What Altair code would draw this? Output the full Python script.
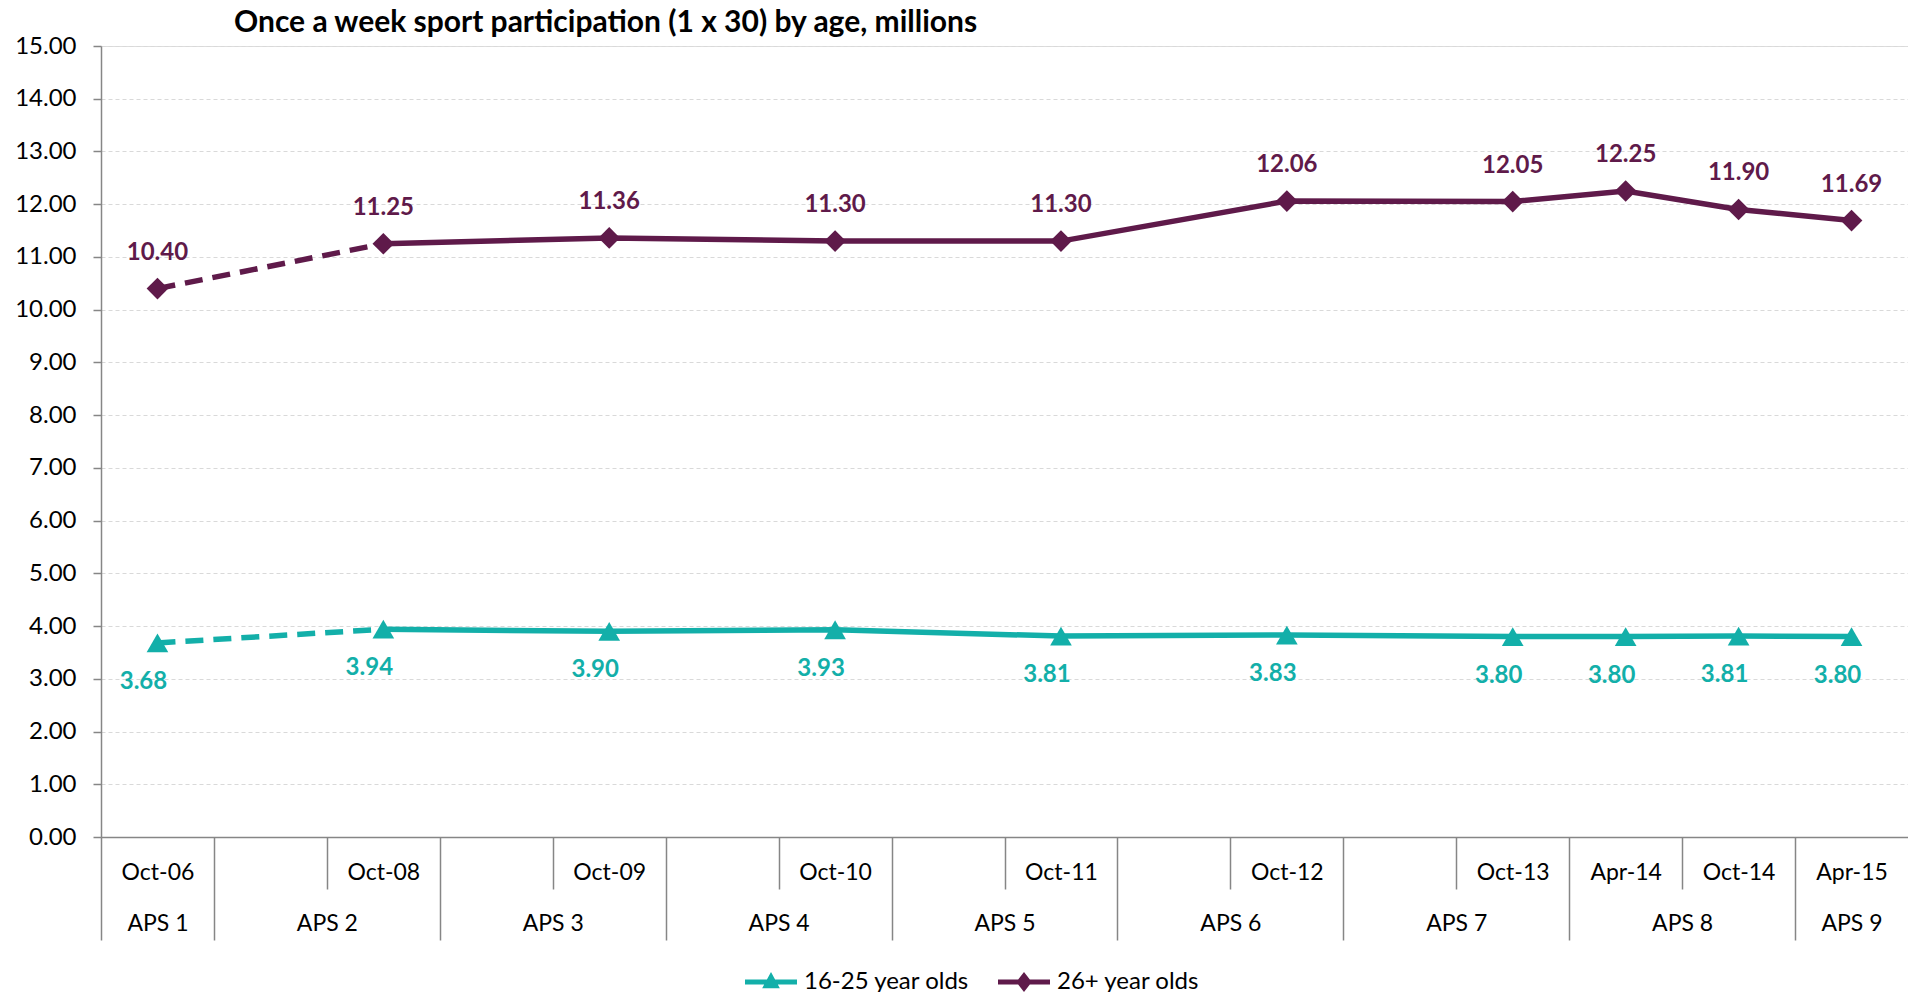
import altair as alt
import pandas as pd

# Survey waves and the reporting periods inside each wave.
# A blank period is an empty slot on the category axis.
waves = ["APS 1", "APS 2", "APS 3", "APS 4", "APS 5", "APS 6", "APS 7", "APS 8", "APS 9"]
wave_periods = [
    ["Oct-06"],
    ["", "Oct-08"],
    ["", "Oct-09"],
    ["", "Oct-10"],
    ["", "Oct-11"],
    ["", "Oct-12"],
    ["", "Oct-13"],
    ["Apr-14", "Oct-14"],
    ["Apr-15"],
]

periods = ["Oct-06", "Oct-08", "Oct-09", "Oct-10", "Oct-11",
           "Oct-12", "Oct-13", "Apr-14", "Oct-14", "Apr-15"]
age_16_25 = [3.68, 3.94, 3.90, 3.93, 3.81, 3.83, 3.80, 3.80, 3.81, 3.80]
age_26_plus = [10.40, 11.25, 11.36, 11.30, 11.30, 12.06, 12.05, 12.25, 11.90, 11.69]

series_names = ["16-25 year olds", "26+ year olds"]
series_colors = ["#13AFA9", "#5F1A4A"]
y_ticks = list(range(0, 16))

FONT = "Lato"
GREY = "#868686"

# ---- category slots -------------------------------------------------------
slot_labels = [p for grp in wave_periods for p in grp]
n_slots = len(slot_labels)

wave_edges, wave_inner, wave_centers = [], [], []
start = 0
for grp in wave_periods:
    wave_edges.append(start)
    wave_centers.append(start + len(grp) / 2)
    for k in range(1, len(grp)):
        wave_inner.append(start + k)
    start += len(grp)

period_centers = [i + 0.5 for i, p in enumerate(slot_labels) if p]

# label lookup tables indexed by 2 * axis value (half-slot resolution)
period_lookup = [""] * (2 * n_slots + 1)
for c in period_centers:
    period_lookup[int(c * 2)] = slot_labels[int(c)]
wave_lookup = [""] * (2 * n_slots + 1)
for w, c in zip(waves, wave_centers):
    wave_lookup[int(c * 2)] = w


def lookup_expr(table):
    return "[" + ",".join("'%s'" % s for s in table) + "][round(datum.value * 2)]"


# ---- long table ------------------------------------------------------------
# small hand nudges (px) for a few data labels that sit off the usual spot
label_nudge = {
    ("16-25 year olds", "Apr-15"): (40, -4),
    ("16-25 year olds", "Oct-12"): (-4, 6),
    ("26+ year olds", "Oct-13"): (-6, 13),
}

rows = []
for name, vals in zip(series_names, [age_16_25, age_26_plus]):
    for p, v in zip(periods, vals):
        nx, ny = label_nudge.get((name, p), (0, 0))
        rows.append({"series": name, "period": p,
                     "x": slot_labels.index(p) + 0.5, "value": v,
                     "nx": nx, "ny": ny})
df = pd.DataFrame(rows)
first_solid = slot_labels.index(periods[1]) + 0.5

x_scale = alt.Scale(domain=[0, n_slots], nice=False, zero=False)
y_scale = alt.Scale(domain=[0, 15], nice=False, zero=True)
c_scale = alt.Scale(domain=series_names, range=series_colors)

axis_wave_edges = alt.Axis(values=wave_edges, orient="bottom", labels=False, ticks=True,
                           tickSize=103, tickColor=GREY, tickWidth=1.5, domain=True,
                           domainColor=GREY, domainWidth=1.5, grid=False, title=None)
axis_inner_edges = alt.Axis(values=wave_inner, orient="bottom", labels=False, ticks=True,
                            tickSize=52, tickColor=GREY, tickWidth=1.5, domain=False,
                            grid=False, title=None)
axis_periods = alt.Axis(values=period_centers, orient="bottom",
                        labelExpr=lookup_expr(period_lookup),
                        ticks=False, tickSize=0, domain=False, grid=False, labelPadding=35,
                        labelBaseline="middle", labelFlush=False, labelOverlap=False,
                        labelFontSize=23, labelColor="black", labelFont=FONT, title=None)
axis_waves = alt.Axis(values=wave_centers, orient="bottom",
                      labelExpr=lookup_expr(wave_lookup),
                      ticks=False, tickSize=0, domain=False, grid=False, labelPadding=86,
                      labelBaseline="middle", labelFlush=False, labelOverlap=False,
                      labelFontSize=23, labelColor="black", labelFont=FONT, title=None)

y_axis = alt.Axis(values=y_ticks, format=".2f", grid=True, gridDash=[4, 3],
                  gridColor="#D9D9D9", gridWidth=1.2, domainColor=GREY, domainWidth=1.5,
                  tickColor=GREY, tickSize=8, tickWidth=1.5, labelPadding=17,
                  labelFontSize=24, labelColor="black", labelFont=FONT, title=None)

base = alt.Chart(df)
color_enc = alt.Color("series:N", scale=c_scale, legend=None)

solid = base.transform_filter(alt.datum.x >= first_solid).mark_line(strokeWidth=5.5).encode(
    x=alt.X("x:Q", scale=x_scale, axis=axis_wave_edges),
    y=alt.Y("value:Q", scale=y_scale, axis=y_axis),
    color=color_enc,
)

dashed = base.transform_filter(alt.datum.x <= first_solid).mark_line(
    strokeWidth=5.5, strokeDash=[18, 10]).encode(
    x=alt.X("x:Q", scale=x_scale, axis=axis_inner_edges),
    y=alt.Y("value:Q", scale=y_scale),
    color=color_enc,
)

points = base.mark_point(filled=True, size=470, opacity=1).encode(
    x=alt.X("x:Q", scale=x_scale, axis=axis_periods),
    y=alt.Y("value:Q", scale=y_scale),
    color=color_enc,
    shape=alt.Shape("series:N", scale=alt.Scale(domain=series_names,
                                                range=["triangle-up", "diamond"]),
                    legend=None),
)

label_style = dict(font=FONT, fontSize=24, fontWeight="bold", baseline="middle", align="center")

labels_old = base.transform_filter(alt.datum.series == series_names[1]).mark_text(
    dy=-36, **label_style).encode(
    x=alt.X("x:Q", scale=x_scale, axis=axis_waves),
    y=alt.Y("value:Q", scale=y_scale),
    xOffset=alt.XOffset("nx:Q", scale=None),
    yOffset=alt.YOffset("ny:Q", scale=None),
    text=alt.Text("value:Q", format=".2f"),
    color=color_enc,
)

labels_young = base.transform_filter(alt.datum.series == series_names[0]).mark_text(
    dx=-14, dy=39, **label_style).encode(
    x=alt.X("x:Q", scale=x_scale, axis=None),
    y=alt.Y("value:Q", scale=y_scale),
    xOffset=alt.XOffset("nx:Q", scale=None),
    yOffset=alt.YOffset("ny:Q", scale=None),
    text=alt.Text("value:Q", format=".2f"),
    color=color_enc,
)

# legend: line-with-marker symbols, drawn from a layer that plots nothing
line_tri = "M-1,-0.1 L1,-0.1 L1,0.1 L-1,0.1 Z M0,-0.38 L0.34,0.24 L-0.34,0.24 Z"
line_dia = "M-1,-0.1 L1,-0.1 L1,0.1 L-1,0.1 Z M0,-0.38 L0.3,0 L0,0.38 L-0.3,0 Z"
legend = alt.Legend(title=None, orient="none", direction="horizontal", legendX=644,
                    legendY=910, symbolSize=2704, symbolStrokeWidth=0, symbolOpacity=1,
                    labelFontSize=24, labelFont=FONT, labelColor="black", labelLimit=400,
                    labelOffset=7, columnPadding=28)
key = base.transform_filter("false").mark_point(filled=True, size=2704, opacity=1).encode(
    x=alt.X("x:Q", scale=x_scale, axis=None),
    y=alt.Y("value:Q", scale=y_scale),
    color=alt.Color("series:N", scale=c_scale, legend=legend),
    shape=alt.Shape("series:N", scale=alt.Scale(domain=series_names,
                                                range=[line_tri, line_dia]),
                    legend=legend),
)

chart = alt.layer(solid, dashed, points, labels_old, labels_young, key).resolve_scale(
    x="independent", color="independent", shape="independent"
).resolve_axis(x="independent").properties(
    width=1807,
    height=791,
    padding={"left": 14, "top": 8, "right": 0, "bottom": 0},
    title=alt.TitleParams(
        "Once a week sport participation (1 x 30) by age, millions",
        anchor="start", frame="group", dx=133, fontSize=30, fontWeight="bold",
        font=FONT, color="black", offset=-4,
    ),
).configure_view(stroke=None).configure(font=FONT)

chart.save("out.html", embed_options={"renderer": "svg", "actions": False})
